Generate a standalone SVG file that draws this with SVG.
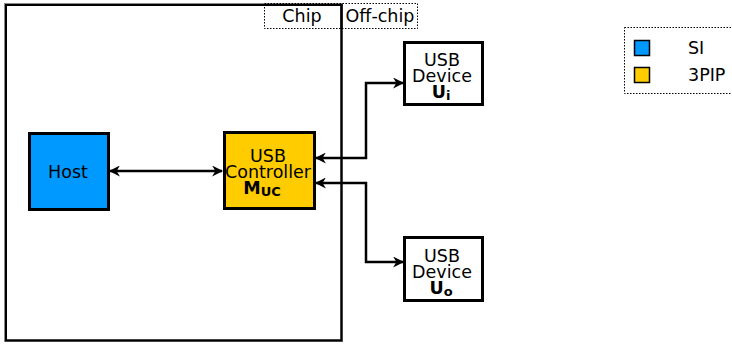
<svg xmlns="http://www.w3.org/2000/svg" width="732" height="345" viewBox="0 0 732 345">
<style>
text{font-family:"DejaVu Sans",sans-serif;fill:#000;}
.node{stroke:#000;stroke-width:3;}
.lbl{font-size:17.5px;text-anchor:middle;}
.conn{fill:none;stroke:#000;stroke-width:2.5;}
.dot{fill:none;stroke:#000;stroke-width:1;stroke-dasharray:1.5,1.5;}
</style>
<defs>
<marker id="ah" viewBox="0 0 10 10" refX="9" refY="5" markerWidth="4.4" markerHeight="4.4" orient="auto-start-reverse" markerUnits="strokeWidth">
<path d="M0,0 L10,5 L0,10 L3,5 Z" fill="#000"/>
</marker>
</defs>
<g id="chip">
<rect x="5.5" y="4.5" width="336" height="336" fill="#fff" stroke="#888" stroke-width="3"/>
<rect x="6" y="5" width="335.5" height="335.5" fill="none" stroke="#000" stroke-width="2"/>
</g>
<g id="chip-label">
<rect x="264.5" y="3.5" width="153" height="25" class="dot" fill="#fff"/>
<line x1="341.5" y1="4" x2="341.5" y2="29" stroke="#000" stroke-width="2"/>
<text x="302" y="22" class="lbl">Chip</text>
<text x="380" y="22" class="lbl">Off-chip</text>
</g>
<g id="connectors">
<line x1="110" y1="171" x2="222" y2="171" class="conn" marker-start="url(#ah)" marker-end="url(#ah)"/>
<polyline points="316,158 366,158 366,83 403,83" class="conn" marker-start="url(#ah)" marker-end="url(#ah)"/>
<polyline points="316,183 366,183 366,262 403,262" class="conn" marker-start="url(#ah)" marker-end="url(#ah)"/>
</g>
<g id="host">
<rect x="29.5" y="133.5" width="79" height="76" fill="#0099ff" class="node"/>
<text x="68" y="178" class="lbl">Host</text>
</g>
<g id="controller">
<rect x="224.5" y="132.5" width="90" height="76" fill="#ffcc00" class="node"/>
<text x="268" y="162" class="lbl">USB</text>
<text x="268" y="178" class="lbl">Controller</text>
<text x="262" y="194" class="lbl" font-weight="bold">M<tspan font-size="13" dy="2">UC</tspan></text>
</g>
<g id="device-i">
<rect x="404.5" y="42.5" width="78" height="62" fill="#fff" class="node"/>
<text x="442" y="66" class="lbl">USB</text>
<text x="442" y="82" class="lbl">Device</text>
<text x="441" y="98" class="lbl" font-weight="bold">U<tspan font-size="13" dy="2">i</tspan></text>
</g>
<g id="device-o">
<rect x="404.5" y="237.5" width="78" height="63" fill="#fff" class="node"/>
<text x="442" y="262" class="lbl">USB</text>
<text x="442" y="278" class="lbl">Device</text>
<text x="441" y="294" class="lbl" font-weight="bold">U<tspan font-size="13" dy="2">o</tspan></text>
</g>
<g id="legend">
<rect x="624.5" y="27.5" width="110" height="66" class="dot"/>
<rect x="634.5" y="40.5" width="15" height="15" fill="#0099ff" stroke="#000" stroke-width="1.5"/>
<rect x="634.5" y="67.5" width="15" height="15" fill="#ffcc00" stroke="#000" stroke-width="1.5"/>
<text x="688" y="54" font-size="17.5px">SI</text>
<text x="688" y="81" font-size="17.5px">3PIP</text>
</g>
</svg>
